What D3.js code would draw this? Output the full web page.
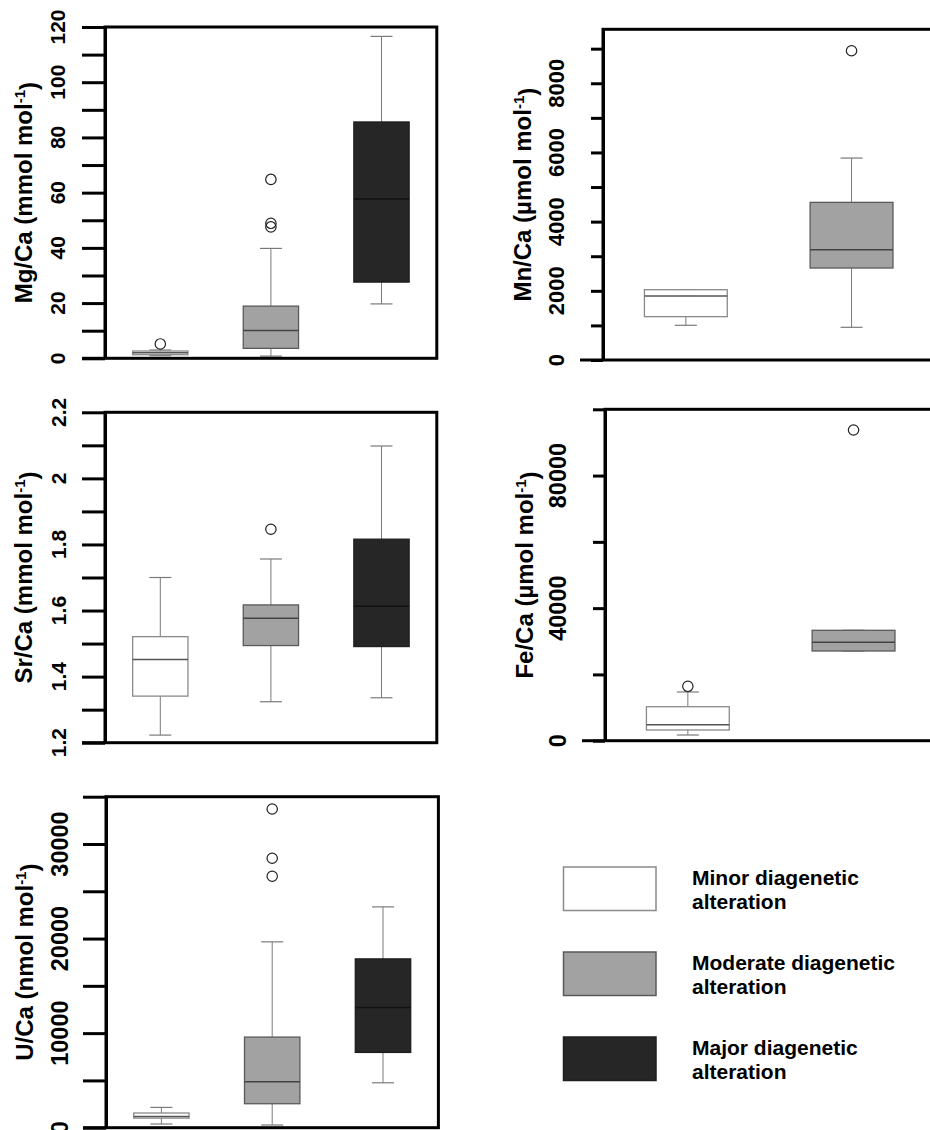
<!DOCTYPE html>
<html>
<head>
<meta charset="utf-8">
<script src="https://cdn.jsdelivr.net/npm/d3@7"></script>
<style>
  html, body { margin: 0; padding: 0; background: #fff; }
  svg { display: block; }
  text { font-family: "Liberation Sans", Arial, Helvetica, sans-serif; font-weight: bold; fill: #000; }
</style>
</head>
<body>
<svg id="chart" width="930" height="1130"></svg>
<script>
// ---------------- DATA ----------------
const groups = ["Minor diagenetic alteration", "Moderate diagenetic alteration", "Major diagenetic alteration"];

// each box: [lower whisker, Q1, median, Q3, upper whisker]
const mgCaStats = [[0.95, 1.3, 2.0, 2.64, 3.0], [0.8, 3.6, 10.1, 18.9, 39.8], [19.7, 27.6, 57.7, 85.6, 116.6]];
const mgCaOutliers = [[5.2], [64.8, 48.9, 47.6], []];
const mgCaTicks = [0, 10, 20, 30, 40, 50, 60, 70, 80, 90, 100, 110, 120];
const mgCaLabels = [0, 20, 40, 60, 80, 100, 120];

const mnCaStats = [[1003, 1253, 1850, 2032, 2032], [945, 2659, 3188, 4557, 5838]];
const mnCaOutliers = [[], [8940]];
const mnCaTicks = [0, 1000, 2000, 3000, 4000, 5000, 6000, 7000, 8000, 9000];
const mnCaLabels = [0, 2000, 4000, 6000, 8000];

const srCaStats = [[1.223, 1.341, 1.452, 1.521, 1.70], [1.324, 1.494, 1.577, 1.617, 1.756], [1.336, 1.491, 1.613, 1.816, 2.098]];
const srCaOutliers = [[], [1.846], []];
const srCaTicks = [1.2, 1.3, 1.4, 1.5, 1.6, 1.7, 1.8, 1.9, 2.0, 2.1, 2.2];
const srCaLabels = ["1.2", "1.4", "1.6", "1.8", "2", "2.2"];

const feCaStats = [[1720, 3230, 4830, 10260, 14700], [27070, 27070, 29690, 33310, 33310]];
const feCaOutliers = [[16410], [93750]];
const feCaTicks = [0, 20000, 40000, 60000, 80000, 100000];
const feCaLabels = [0, 40000, 80000];

const uCaStats = [[391, 1014, 1197, 1553, 2145], [285, 2535, 4860, 9582, 19650], [4750, 7960, 12710, 17850, 23350]];
const uCaOutliers = [[], [33700, 28490, 26590], []];
const uCaTicks = [0, 5000, 10000, 15000, 20000, 25000, 30000, 35000];
const uCaLabels = [0, 10000, 20000, 30000];

// ---------------- STYLE ----------------
const fills = ["#ffffff", "#a2a2a2", "#262626"];
const strokes = ["#8a8a8a", "#5a5a5a", "#1e1e1e"];
const medians = ["#555555", "#444444", "#111111"];

const svg = d3.select("#chart");

function panel(cfg) {
  const g = svg.append("g");
  const y = d3.scaleLinear().domain(cfg.domain).range([cfg.bottom, cfg.top]);
  const x = d3.scaleLinear().domain([0.5, 3.5]).range([cfg.axisX, cfg.axisX + 3 * cfg.unit]);
  const right = cfg.axisX + 3 * cfg.unit;
  const boxW = cfg.unit * 0.5;
  const capW = 22;

  // boxes
  cfg.stats.forEach((s, i) => {
    const cx = x(i + 1);
    const bg = g.append("g");
    // whiskers
    bg.append("line").attr("x1", cx).attr("x2", cx).attr("y1", y(s[0])).attr("y2", y(s[1]))
      .attr("stroke", "#7a7a7a").attr("stroke-width", 1);
    bg.append("line").attr("x1", cx).attr("x2", cx).attr("y1", y(s[3])).attr("y2", y(s[4]))
      .attr("stroke", "#7a7a7a").attr("stroke-width", 1);
    bg.append("line").attr("x1", cx - capW / 2).attr("x2", cx + capW / 2).attr("y1", y(s[0])).attr("y2", y(s[0]))
      .attr("stroke", "#7a7a7a").attr("stroke-width", 1.2);
    bg.append("line").attr("x1", cx - capW / 2).attr("x2", cx + capW / 2).attr("y1", y(s[4])).attr("y2", y(s[4]))
      .attr("stroke", "#7a7a7a").attr("stroke-width", 1.2);
    // box
    bg.append("rect").attr("x", cx - boxW / 2).attr("width", boxW)
      .attr("y", y(s[3])).attr("height", Math.max(1, y(s[1]) - y(s[3])))
      .attr("fill", fills[i]).attr("stroke", strokes[i]).attr("stroke-width", 1.3);
    // median
    bg.append("line").attr("x1", cx - boxW / 2).attr("x2", cx + boxW / 2).attr("y1", y(s[2])).attr("y2", y(s[2]))
      .attr("stroke", medians[i]).attr("stroke-width", 1.5);
    // outliers
    bg.selectAll("circle.o").data(cfg.outliers[i]).enter().append("circle")
      .attr("cx", cx).attr("cy", d => y(d)).attr("r", 5.2)
      .attr("fill", "none").attr("stroke", "#222").attr("stroke-width", 1.2);
  });

  // frame
  g.append("rect").attr("x", cfg.axisX).attr("y", cfg.top).attr("width", right - cfg.axisX).attr("height", cfg.bottom - cfg.top)
    .attr("fill", "none").attr("stroke", "#000").attr("stroke-width", 3);
  // bottom line extension
  g.append("line").attr("x1", cfg.axisX - 23).attr("x2", cfg.axisX).attr("y1", cfg.bottom).attr("y2", cfg.bottom)
    .attr("stroke", "#000").attr("stroke-width", 3);

  // axis
  const axis = d3.axisLeft(y).tickValues(cfg.ticks).tickSize(cfg.tickLen).tickSizeOuter(0).tickFormat("");
  const ag = g.append("g").attr("transform", `translate(${cfg.axisX},0)`).call(axis);
  ag.select(".domain").attr("stroke", "#000").attr("stroke-width", 3);
  ag.selectAll(".tick line").attr("stroke", "#000").attr("stroke-width", 3);

  // tick labels (rotated)
  g.selectAll("text.lab").data(cfg.labels).enter().append("text")
    .attr("class", "lab")
    .attr("transform", d => `translate(${cfg.labelX},${y(+d)}) rotate(-90)`)
    .attr("text-anchor", "middle")
    .style("font-size", cfg.labelSize + "px")
    .text(d => d);

  // title
  const t = g.append("text")
    .attr("transform", `translate(${cfg.titleX},${(cfg.top + cfg.bottom) / 2}) rotate(-90)`)
    .attr("text-anchor", "middle")
    .style("font-size", "24px");
  t.append("tspan").text(cfg.title);
  t.append("tspan").attr("dy", "-0.5em").style("font-size", "15px").text("-1");
  t.append("tspan").attr("dy", "0.5em").text(")");
}

panel({ stats: mgCaStats, outliers: mgCaOutliers, ticks: mgCaTicks, labels: mgCaLabels, domain: [0, 120],
  title: "Mg/Ca (mmol mol", axisX: 105, unit: 110.6, top: 27, bottom: 358.3, tickLen: 23,
  labelX: 65, labelSize: 21, titleX: 32 });
panel({ stats: mnCaStats, outliers: mnCaOutliers, ticks: mnCaTicks, labels: mnCaLabels, domain: [0, 9560],
  title: "Mn/Ca (\u00b5mol mol", axisX: 603, unit: 165.7, top: 29.3, bottom: 360, tickLen: 12,
  labelX: 564, labelSize: 22, titleX: 531 });
panel({ stats: srCaStats, outliers: srCaOutliers, ticks: srCaTicks, labels: srCaLabels, domain: [1.2, 2.2],
  title: "Sr/Ca (mmol mol", axisX: 105, unit: 110.6, top: 412.3, bottom: 742.7, tickLen: 23,
  labelX: 66, labelSize: 21, titleX: 32 });
panel({ stats: feCaStats, outliers: feCaOutliers, ticks: feCaTicks, labels: feCaLabels, domain: [0, 100000],
  title: "Fe/Ca (\u00b5mol mol", axisX: 605, unit: 165.7, top: 409.3, bottom: 740.7, tickLen: 12,
  labelX: 566, labelSize: 23.5, titleX: 533 });
panel({ stats: uCaStats, outliers: uCaOutliers, ticks: uCaTicks, labels: uCaLabels, domain: [0, 35000],
  title: "U/Ca (nmol mol", axisX: 106, unit: 110.8, top: 796.7, bottom: 1127.7, tickLen: 23,
  labelX: 68, labelSize: 23.5, titleX: 33 });

// ---------------- LEGEND ----------------
const legendLines = [["Minor diagenetic", "alteration"], ["Moderate diagenetic", "alteration"], ["Major diagenetic", "alteration"]];
const legY = d3.scalePoint().domain(groups).range([867, 1037]);
const lg = svg.append("g");
groups.forEach((gname, i) => {
  const yy = legY(gname);
  lg.append("rect").attr("x", 563.5).attr("y", yy).attr("width", 92.5).attr("height", 43.5)
    .attr("fill", fills[i]).attr("stroke", i === 0 ? "#8a8a8a" : strokes[i]).attr("stroke-width", 1.5);
  const t = lg.append("text").attr("x", 692).attr("y", yy + 18).style("font-size", "21px");
  legendLines[i].forEach((ln, j) => {
    t.append("tspan").attr("x", 692).attr("dy", j === 0 ? 0 : 24).text(ln);
  });
});
</script>
</body>
</html>
